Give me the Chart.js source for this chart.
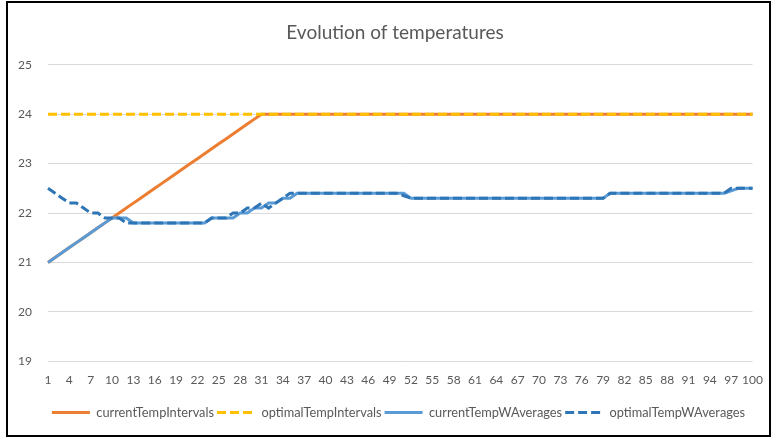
<!DOCTYPE html>
<html>
<head>
<meta charset="utf-8">
<script src="https://cdn.jsdelivr.net/npm/chart.js@4"></script>
<style>
  html, body { margin: 0; padding: 0; background: #fff; }
  #wrap { position: relative; width: 775px; height: 438px; }
  #frame { position: absolute; left: 6px; top: 1px; width: 761px; height: 432px; border: 2px solid #000; pointer-events: none; }
  canvas { position: absolute; left: 0; top: 0; }
</style>
</head>
<body>
<div id="wrap">
  <canvas id="temp-chart" width="775" height="438"></canvas>
  <div id="frame"></div>
</div>
<script>
// ====================================data

const labels = Array.from({ length: 100 }, (_, i) => String(i + 1))

const currentTempIntervals = [
    21.0, 21.1, 21.2, 21.3, 21.4, 21.5, 21.6, 21.7, 21.8, 21.9,
    22.0, 22.1, 22.2, 22.3, 22.4, 22.5, 22.6, 22.7, 22.8, 22.9,
    23.0, 23.1, 23.2, 23.3, 23.4, 23.5, 23.6, 23.7, 23.8, 23.9,
    24, 24, 24, 24, 24, 24, 24, 24, 24, 24,
    24, 24, 24, 24, 24, 24, 24, 24, 24, 24,
    24, 24, 24, 24, 24, 24, 24, 24, 24, 24,
    24, 24, 24, 24, 24, 24, 24, 24, 24, 24,
    24, 24, 24, 24, 24, 24, 24, 24, 24, 24,
    24, 24, 24, 24, 24, 24, 24, 24, 24, 24,
    24, 24, 24, 24, 24, 24, 24, 24, 24, 24
]

const optimalTempIntervals = [
    24, 24, 24, 24, 24, 24, 24, 24, 24, 24,
    24, 24, 24, 24, 24, 24, 24, 24, 24, 24,
    24, 24, 24, 24, 24, 24, 24, 24, 24, 24,
    24, 24, 24, 24, 24, 24, 24, 24, 24, 24,
    24, 24, 24, 24, 24, 24, 24, 24, 24, 24,
    24, 24, 24, 24, 24, 24, 24, 24, 24, 24,
    24, 24, 24, 24, 24, 24, 24, 24, 24, 24,
    24, 24, 24, 24, 24, 24, 24, 24, 24, 24,
    24, 24, 24, 24, 24, 24, 24, 24, 24, 24,
    24, 24, 24, 24, 24, 24, 24, 24, 24, 24
]

const currentTempWAverages = [
    21.0, 21.1, 21.2, 21.3, 21.4, 21.5, 21.6, 21.7, 21.8, 21.9,
    21.9, 21.9, 21.8, 21.8, 21.8, 21.8, 21.8, 21.8, 21.8, 21.8,
    21.8, 21.8, 21.8, 21.9, 21.9, 21.9, 21.9, 22.0, 22.0, 22.1,
    22.1, 22.2, 22.2, 22.3, 22.3, 22.4, 22.4, 22.4, 22.4, 22.4,
    22.4, 22.4, 22.4, 22.4, 22.4, 22.4, 22.4, 22.4, 22.4, 22.4,
    22.4, 22.3, 22.3, 22.3, 22.3, 22.3, 22.3, 22.3, 22.3, 22.3,
    22.3, 22.3, 22.3, 22.3, 22.3, 22.3, 22.3, 22.3, 22.3, 22.3,
    22.3, 22.3, 22.3, 22.3, 22.3, 22.3, 22.3, 22.3, 22.3, 22.4,
    22.4, 22.4, 22.4, 22.4, 22.4, 22.4, 22.4, 22.4, 22.4, 22.4,
    22.4, 22.4, 22.4, 22.4, 22.4, 22.4, 22.45, 22.5, 22.5, 22.5
]

const optimalTempWAverages = [
    22.5, 22.4, 22.3, 22.2, 22.2, 22.1, 22.0, 22.0, 21.9, 21.9,
    21.9, 21.8, 21.8, 21.8, 21.8, 21.8, 21.8, 21.8, 21.8, 21.8,
    21.8, 21.8, 21.8, 21.9, 21.9, 21.9, 22.0, 22.0, 22.1, 22.1,
    22.2, 22.1, 22.2, 22.3, 22.4, 22.4, 22.4, 22.4, 22.4, 22.4,
    22.4, 22.4, 22.4, 22.4, 22.4, 22.4, 22.4, 22.4, 22.4, 22.4,
    22.35, 22.3, 22.3, 22.3, 22.3, 22.3, 22.3, 22.3, 22.3, 22.3,
    22.3, 22.3, 22.3, 22.3, 22.3, 22.3, 22.3, 22.3, 22.3, 22.3,
    22.3, 22.3, 22.3, 22.3, 22.3, 22.3, 22.3, 22.3, 22.3, 22.4,
    22.4, 22.4, 22.4, 22.4, 22.4, 22.4, 22.4, 22.4, 22.4, 22.4,
    22.4, 22.4, 22.4, 22.4, 22.4, 22.4, 22.5, 22.5, 22.5, 22.5
]

const yTicks = [19, 20, 21, 22, 23, 24, 25]

// ====================================chart

const myCanvas = document.querySelector('#temp-chart')
const FONT = "Lato, 'Open Sans', sans-serif"
const TEXT_COLOR = '#595959'

function lineSet(label, values, color, dash, order) {
    return {
        label,
        data: values,
        borderColor: color,
        backgroundColor: color,
        borderWidth: 3,
        borderDash: dash,
        pointRadius: 0,
        pointHoverRadius: 0,
        tension: 0,
        fill: false,
        order,
    }
}

const data = {
    labels,
    datasets: [
        lineSet('currentTempIntervals', currentTempIntervals, '#ED7D31', [], 4),
        lineSet('optimalTempIntervals', optimalTempIntervals, '#FFC000', [9, 4], 3),
        lineSet('currentTempWAverages', currentTempWAverages, '#5B9BD5', [], 2),
        lineSet('optimalTempWAverages', optimalTempWAverages, '#2E75B6', [9, 4], 1),
    ]
}

// title and legend are centred on the plot like in excel, not on the canvas
const shiftBoxes = {
    id: 'shiftBoxes',
    afterLayout(chart) {
        chart.titleBlock.left = 33
        chart.titleBlock.right = 757
        chart.legend.left = 40
        chart.legend.right = 757
    }
}

const config = {
    type: 'line',
    data,
    plugins: [shiftBoxes],
    options: {
        responsive: false,
        animation: false,
        devicePixelRatio: 1,
        layout: {
            padding: { left: 0, right: 18, top: 0, bottom: 9 }
        },
        plugins: {
            title: {
                display: true,
                text: 'Evolution of temperatures',
                color: TEXT_COLOR,
                font: { family: FONT, size: 19, weight: 'normal' },
                padding: { top: 21, bottom: 21 }
            },
            legend: {
                position: 'bottom',
                labels: {
                    usePointStyle: true,
                    pointStyle: 'line',
                    pointStyleWidth: 38,
                    padding: 3,
                    color: TEXT_COLOR,
                    font: { family: FONT, size: 12.8 },
                    sort: (a, b) => a.datasetIndex - b.datasetIndex,
                    generateLabels: chart =>
                        Chart.defaults.plugins.legend.labels.generateLabels(chart).map(item => {
                            const ds = chart.data.datasets[item.datasetIndex]
                            return { ...item, lineDash: ds.borderDash, lineWidth: ds.borderWidth, strokeStyle: ds.borderColor }
                        })
                }
            },
            tooltip: { enabled: false }
        },
        scales: {
            x: {
                offset: false,
                afterFit: scale => { scale.height = 42 },
                grid: { display: false, drawTicks: false },
                border: { display: false },
                ticks: {
                    autoSkip: false,
                    maxRotation: 0,
                    padding: 12,
                    color: TEXT_COLOR,
                    font: { family: FONT, size: 12 },
                    callback: (val, i) => (i % 3 === 0 ? labels[i] : null)
                }
            },
            y: {
                min: yTicks[0],
                max: yTicks[yTicks.length - 1],
                afterFit: scale => { scale.width = 48 },
                afterBuildTicks: scale => { scale.ticks = yTicks.map(v => ({ value: v })) },
                grid: { color: '#D9D9D9', lineWidth: 1, drawTicks: false },
                border: { display: false },
                ticks: {
                    padding: 16,
                    color: TEXT_COLOR,
                    font: { family: FONT, size: 12 }
                }
            }
        }
    }
}

const myChart = new Chart(myCanvas, config)
</script>
</body>
</html>
